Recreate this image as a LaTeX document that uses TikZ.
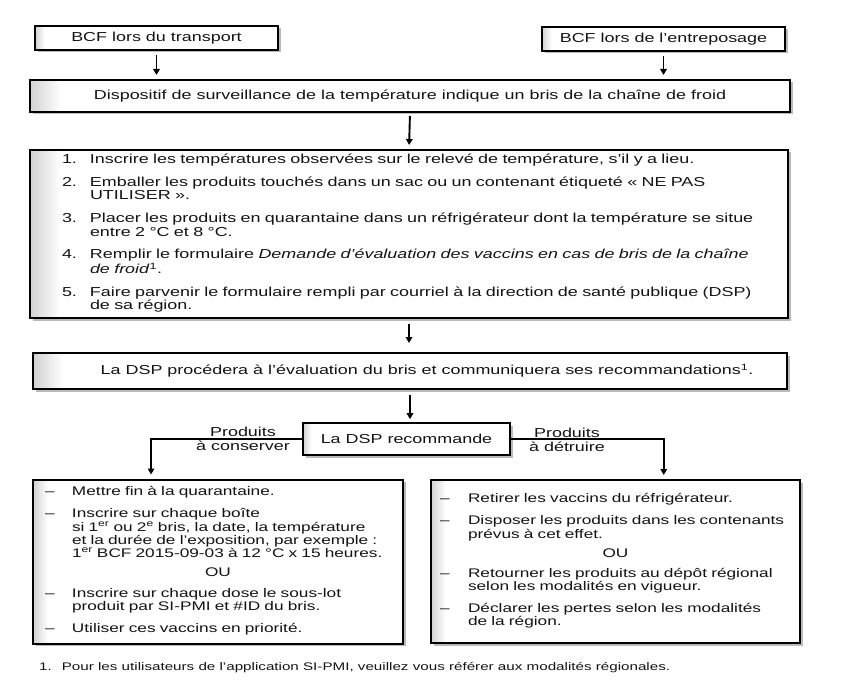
\documentclass[tikz,border=0pt]{standalone}
\usepackage{fontspec}
\setmainfont{Liberation Sans}[FakeStretch=1.38]
\usepackage{tikz}
\usetikzlibrary{arrows.meta,positioning,shadows,calc}
\pgfdeclarehorizontalshading{boxfade}{100bp}{color(0bp)=(black!18); color(25bp)=(black!18); color(27bp)=(white); color(100bp)=(white)}
\newcommand{\expo}[1]{\textsuperscript{#1}}
\newcommand{\boxfont}{\fontsize{12.5}{13}\selectfont}

\begin{document}
\begin{tikzpicture}[x=1pt, y=-1pt,
  font=\fontsize{13}{13.5}\selectfont, text=black!92,
  cbox/.style={draw=black, line width=2pt, shade, shading=boxfade, inner sep=0pt,
               drop shadow={shadow xshift=2.5pt, shadow yshift=-2.5pt, fill=black!45, opacity=.6}},
  lbl/.style={align=center, inner sep=0pt},
  flow/.style={line width=1.9pt, -{Triangle[length=6pt,width=6.5pt]}},
]
\useasboundingbox (0,0) rectangle (850,684);

\node[cbox, minimum width=243pt, minimum height=24pt] (trans) at (156.5,38) {BCF lors du transport};
\node[cbox, minimum width=243pt, minimum height=24pt] (entre) at (663.5,39) {BCF lors de l’entreposage};
\node[cbox, minimum width=760pt, minimum height=32pt] (disp) at (410,96)
  {Dispositif de surveillance de la température indique un bris de la chaîne de froid};
\node[cbox, minimum width=758pt, minimum height=168pt, text width=694pt, align=left] (list) at (409,234)
  {\begin{tabular}{@{}p{28pt}@{}l@{}}
   1. & Inscrire les températures observées sur le relevé de température, s’il y a lieu.\\[9pt]
   2. & Emballer les produits touchés dans un sac ou un contenant étiqueté «~NE PAS\\
      & UTILISER~».\\[9pt]
   3. & Placer les produits en quarantaine dans un réfrigérateur dont la température se situe\\
      & entre 2 °C et 8 °C.\\[9pt]
   4. & Remplir le formulaire \textit{Demande d’évaluation des vaccins en cas de bris de la chaîne}\\
      & \textit{de froid}\expo{1}.\\[9pt]
   5. & Faire parvenir le formulaire rempli par courriel à la direction de santé publique (DSP)\\
      & de sa région.
   \end{tabular}};
\node[cbox, minimum width=754pt, minimum height=36pt] (dspeval) at (410,371)
  {\hspace*{34pt}La DSP procédera à l’évaluation du bris et communiquera ses recommandations\expo{1}.};
\node[cbox, line width=1.6pt, minimum width=207pt, minimum height=32pt] (reco) at (406.5,439) {La DSP recommande};

\node[cbox, minimum width=370pt, minimum height=164pt, text width=346pt, align=left, font=\boxfont] (keep) at (218,561.5)
  {\begin{tabular}{@{}p{27pt}@{}l@{}}
   – & Mettre fin à la quarantaine.\\[9pt]
   – & Inscrire sur chaque boîte\\
     & si 1\expo{er} ou 2\expo{e} bris, la date, la température\\
     & et la durée de l’exposition, par exemple :\\
     & 1\expo{er} BCF 2015-09-03 à 12 °C x 15 heures.\\[6pt]
   \multicolumn{2}{@{}l@{}}{\makebox[346pt]{OU}}\\[8pt]
   – & Inscrire sur chaque dose le sous-lot\\
     & produit par SI-PMI et \#ID du bris.\\[9pt]
   – & Utiliser ces vaccins en priorité.
   \end{tabular}};
\node[cbox, minimum width=369pt, minimum height=163pt, text width=351pt, align=left, font=\boxfont] (toss) at (615.5,561.5)
  {\begin{tabular}{@{}p{28pt}@{}l@{}}
   – & Retirer les vaccins du réfrigérateur.\\[9pt]
   – & Disposer les produits dans les contenants\\
     & prévus à cet effet.\\[6pt]
   \multicolumn{2}{@{}l@{}}{\makebox[351pt]{OU}}\\[7pt]
   – & Retourner les produits au dépôt régional\\
     & selon les modalités en vigueur.\\[9pt]
   – & Déclarer les pertes selon les modalités\\
     & de la région.
   \end{tabular}};

\node[lbl] (keeplbl) at (243,439) {Produits\\à conserver};
\node[lbl] (tosslbl) at (567,440) {Produits\\à détruire};

\node[anchor=west, inner sep=0pt, font=\fontsize{11}{12}\selectfont] (note) at (39,668)
  {1.\hspace{10pt}Pour les utilisateurs de l’application SI-PMI, veuillez vous référer aux modalités régionales.};

\draw[flow, shorten <=4pt, shorten >=4pt] (trans.south) -- (trans.south |- disp.north);
\draw[flow, shorten <=4pt, shorten >=4pt] (entre.south) -- (entre.south |- disp.north);
\draw[flow, shorten <=3pt, shorten >=4pt] (disp.south) -- (list.north);
\draw[flow, shorten <=5pt, shorten >=9pt] (list.south) -- (list.south |- dspeval.north);
\draw[flow, shorten <=5pt, shorten >=3pt] (dspeval.south) -- (dspeval.south |- reco.north);
\draw[flow, shorten >=4pt] (reco.west) -| ($(keep.north west)!0.32!(keep.north east)$);
\draw[flow, shorten >=4pt] (reco.east) -| ($(toss.north west)!0.63!(toss.north east)$);
\end{tikzpicture}
\end{document}
